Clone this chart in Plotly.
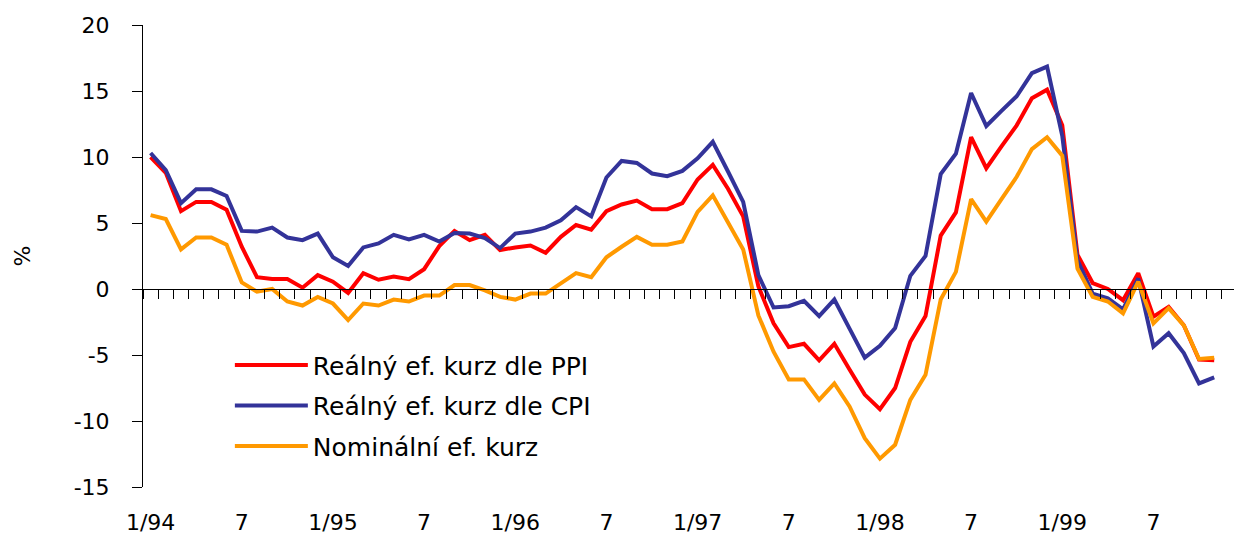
import plotly.graph_objects as go

# Months from 1/94 to 12/99 (index 0..71); data ends 11/99
months = list(range(72))
tick_positions = [0, 6, 12, 18, 24, 30, 36, 42, 48, 54, 60, 66]
tick_labels = ["1/94", "7", "1/95", "7", "1/96", "7", "1/97", "7", "1/98", "7", "1/99", "7"]
y_ticks = [-15, -10, -5, 0, 5, 10, 15, 20]
y_tick_labels = ["-15", "-10", "-5", "0", "5", "10", "15", "20"]

real_ppi = [10.0, 8.8, 5.9, 6.6, 6.6, 6.0, 3.2, 0.9, 0.75, 0.75, 0.1, 1.05,
            0.55, -0.3, 1.2, 0.7, 0.95, 0.75, 1.5, 3.25, 4.4, 3.7, 4.1, 2.95,
            3.15, 3.3, 2.75, 3.95, 4.85, 4.5, 5.9, 6.4, 6.7, 6.05, 6.05, 6.5,
            8.3, 9.4, 7.6, 5.5, 0.2, -2.6, -4.4, -4.15, -5.4, -4.15, -6.1, -8.0,
            -9.1, -7.5, -4.0, -2.05, 4.05, 5.8, 11.5, 9.15, 10.8, 12.4, 14.45, 15.1,
            12.4, 2.6, 0.45, 0.0, -0.85, 1.2, -2.1, -1.35, -2.75, -5.35, -5.4, None]

real_cpi = [10.3, 9.0, 6.5, 7.55, 7.55, 7.05, 4.4, 4.35, 4.65, 3.9, 3.7, 4.2,
            2.4, 1.75, 3.15, 3.45, 4.1, 3.75, 4.1, 3.6, 4.25, 4.2, 3.85, 3.1,
            4.2, 4.35, 4.65, 5.2, 6.2, 5.5, 8.45, 9.7, 9.55, 8.75, 8.55, 8.95,
            9.9, 11.15, 8.9, 6.6, 1.05, -1.4, -1.3, -0.9, -2.05, -0.8, -3.0, -5.2,
            -4.3, -2.95, 1.0, 2.5, 8.7, 10.25, 14.85, 12.35, 13.5, 14.6, 16.35, 16.85,
            11.6, 2.2, -0.35, -0.7, -1.55, 0.8, -4.35, -3.35, -4.85, -7.15, -6.7, None]

nominal = [5.6, 5.3, 3.0, 3.9, 3.9, 3.35, 0.5, -0.2, 0.0, -0.95, -1.25, -0.6,
           -1.1, -2.35, -1.1, -1.25, -0.8, -0.95, -0.5, -0.5, 0.3, 0.3, -0.1, -0.6,
           -0.8, -0.35, -0.35, 0.4, 1.2, 0.9, 2.4, 3.2, 3.95, 3.35, 3.35, 3.6,
           5.85, 7.1, 5.0, 3.0, -2.0, -4.75, -6.85, -6.85, -8.4, -7.15, -8.9, -11.3,
           -12.85, -11.8, -8.4, -6.5, -0.8, 1.3, 6.8, 5.1, 6.8, 8.5, 10.6, 11.5,
           10.1, 1.55, -0.6, -0.95, -1.85, 0.55, -2.6, -1.45, -2.75, -5.3, -5.2, None]

series_names = ["Reálný ef. kurz dle PPI", "Reálný ef. kurz dle CPI", "Nominální ef. kurz"]
series_colors = ["#FF0000", "#333399", "#FF9900"]

y_min, y_max = -15, 20
FONT = "DejaVu Sans"

fig = go.Figure()
for name, vals, col in zip(series_names, [real_ppi, real_cpi, nominal], series_colors):
    fig.add_trace(go.Scatter(x=months, y=vals, name=name, mode="lines",
                             line=dict(color=col, width=4), legendgroup=name))

# invisible helper trace so the zero-line axis is drawn
fig.add_trace(go.Scatter(x=[0], y=[None], xaxis="x2", showlegend=False, hoverinfo="skip"))

# the page body has an 8px default margin, so the figure is sized to fit the window
fig.update_layout(
    width=1234, height=527,
    margin=dict(l=135, r=5, t=17, b=48, autoexpand=False),
    paper_bgcolor="white", plot_bgcolor="white",
    font=dict(family=FONT, size=22, color="black"),
    showlegend=True,
    legend=dict(x=0.0794, y=0.3135, xanchor="left", yanchor="top",
                bgcolor="rgba(0,0,0,0)", font=dict(family=FONT, size=25),
                tracegroupgap=5, itemwidth=73),
    xaxis=dict(range=[-0.5, 71.5], tickvals=tick_positions, ticktext=tick_labels,
               showline=False, ticks="", showgrid=False, zeroline=False,
               automargin=False, ticklabelstandoff=20, tickfont=dict(size=22)),
    xaxis2=dict(range=[-0.5, 71.5], overlaying="x", anchor="free",
                position=(0 - y_min) / (y_max - y_min), side="bottom",
                tickvals=[k - 0.5 for k in range(73)], ticks="outside", ticklen=9,
                tickcolor="black", showticklabels=False, showline=True,
                linecolor="black", linewidth=1, showgrid=False, zeroline=False,
                automargin=False),
    yaxis=dict(range=[y_min, y_max], tickvals=y_ticks, ticktext=y_tick_labels,
               ticks="outside", ticklen=10, tickcolor="black",
               showline=True, linecolor="black", linewidth=1, automargin=False,
               showgrid=False, zeroline=False, ticklabelstandoff=18,
               tickfont=dict(size=22),
               title=dict(text="%", standoff=36, font=dict(size=22))),
)

fig.write_html("out.html")
